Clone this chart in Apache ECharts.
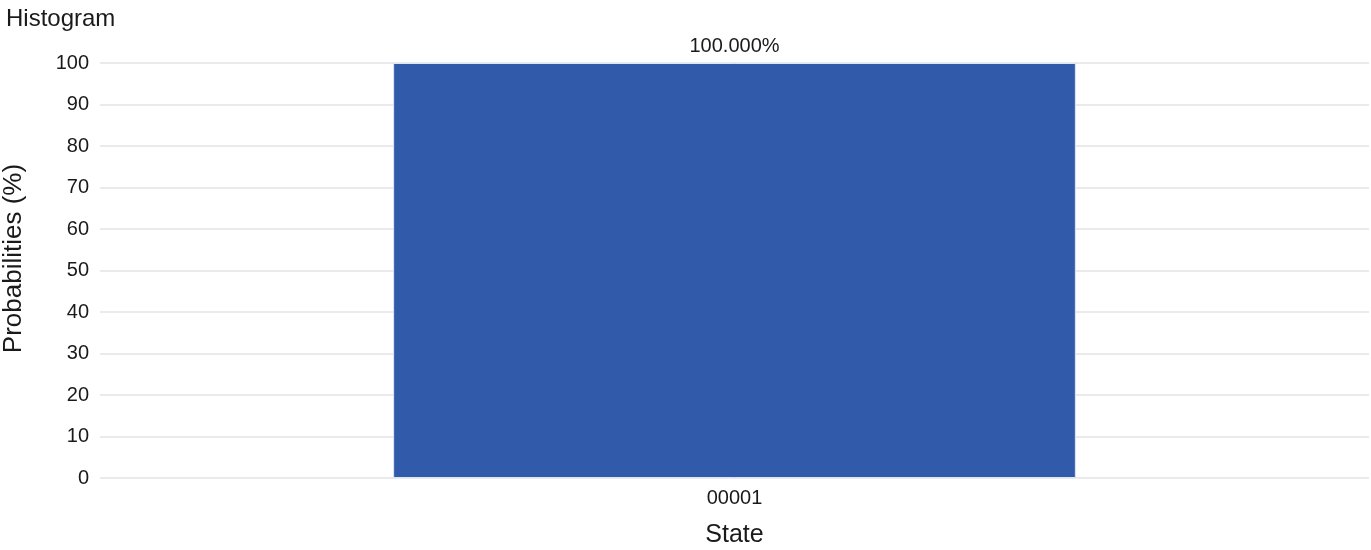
<!DOCTYPE html>
<html><head><meta charset="utf-8">
<script src="https://cdn.jsdelivr.net/npm/echarts@6/dist/echarts.min.js"></script>
<style>html,body{margin:0;padding:0;background:#fff}#c{width:1371px;height:550px}</style>
</head><body><div id="c"></div>
<script>
const categories = ['00001'];
const values = [100];
const yTicks = [0,10,20,30,40,50,60,70,80,90,100];
const chart = echarts.init(document.getElementById('c'));
const font = 'Liberation Sans, Arial, Helvetica, sans-serif';
chart.setOption({
  animation: false,
  textStyle: {fontFamily: font},
  title: {text: 'Histogram', left: 1, top: 2, textStyle: {fontSize: 24, fontWeight: 'normal', color: '#1a1a1a', fontFamily: font}},
  grid: {left: 100, right: 2, top: 63, bottom: 72, containLabel: false, outerBoundsMode: 'none'},
  xAxis: {
    type: 'category', data: categories,
    name: 'State', nameLocation: 'middle', nameGap: 45,
    nameTextStyle: {fontSize: 25, color: '#1a1a1a', fontFamily: font},
    axisLine: {show: false}, axisTick: {show: false},
    axisLabel: {fontSize: 20, color: '#1a1a1a', margin: 10, fontFamily: font}
  },
  yAxis: {
    type: 'value', min: yTicks[0], max: yTicks[yTicks.length-1], interval: 10,
    name: 'Probabilities (%)', nameLocation: 'middle', nameGap: 73, nameRotate: 90,
    nameTextStyle: {fontSize: 26, color: '#1a1a1a', fontFamily: font, padding: [0, 0, 0, 24]},
    axisLine: {show: false}, axisTick: {show: false},
    axisLabel: {fontSize: 20, color: '#1a1a1a', margin: 11, fontFamily: font},
    splitLine: {lineStyle: {color: '#e3e3e3', width: 1.5}}
  },
  series: [{
    type: 'bar', data: values, barWidth: '53.8%',
    itemStyle: {color: '#325aaa', borderColor: '#dde6f5', borderWidth: 1},
    label: {show: true, position: 'top', distance: 7, fontSize: 20, color: '#1a1a1a', fontFamily: font,
      formatter: p => p.value.toFixed(3) + '%'}
  }]
});
</script></body></html>
